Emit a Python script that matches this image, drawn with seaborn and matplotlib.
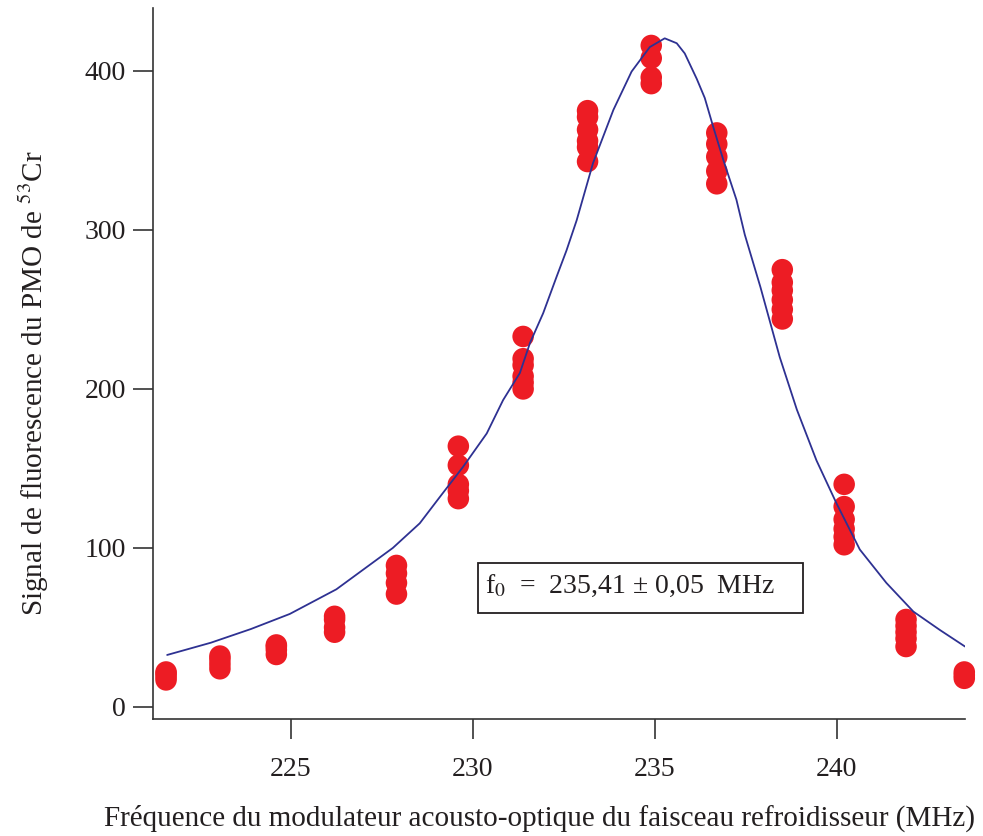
import matplotlib
matplotlib.use("Agg")
import matplotlib.pyplot as plt
from matplotlib.patches import Rectangle
import seaborn as sns
import pandas as pd

# measured frequencies (MHz) and repeated fluorescence readings at each one
freq_points = [221.57, 223.05, 224.6, 226.2, 227.9, 229.6, 231.38,
               233.15, 234.9, 236.7, 238.5, 240.2, 241.9, 243.5]
signal_points = [
    [17, 19, 21, 22],
    [24, 27, 30, 32],
    [33, 36, 38, 39],
    [47, 50, 55, 57],
    [71, 78, 84, 89],
    [131, 136, 140, 152, 164],
    [200, 204, 208, 215, 219, 233],
    [343, 352, 356, 363, 371, 375],
    [392, 396, 408, 416],
    [329, 337, 346, 354, 361],
    [244, 250, 256, 262, 267, 275],
    [102, 107, 112, 118, 126, 140],
    [38, 43, 47, 51, 55],
    [18, 20, 22],
]

# fitted curve
fit_freq = [221.6, 222.8, 223.9, 224.97, 226.25, 227.8, 228.54, 229.09, 229.73,
            230.38, 230.83, 231.29, 231.57, 231.93, 232.3, 232.57, 232.85, 233.3,
            233.86, 234.36, 234.86, 235.27, 235.6, 235.82, 236.15, 236.37, 236.6,
            236.88, 237.24, 237.47, 237.9, 238.43, 238.9, 239.44, 239.99, 240.63,
            241.36, 242.1, 242.83, 243.52]
fit_signal = [32.7, 40.4, 49, 58.5, 74, 100, 115.5, 132, 151,
              172, 193, 210, 229, 247.6, 270.6, 287, 306, 342,
              375.5, 399.6, 415, 420.5, 417.4, 411, 395, 383, 365,
              344, 319, 297, 264, 220, 187, 155, 128, 99,
              78, 60, 48.4, 38]

x_ticks = [225, 230, 235, 240]
y_ticks = [0, 100, 200, 300, 400]

x_label = "Fréquence du modulateur acousto-optique du faisceau refroidisseur (MHz)"
y_label = r"Signal de fluorescence du PMO de $^{53}$Cr"
fit_text = r"f$_0$  =  235,41 ± 0,05  MHz"


def main():
    sns.set_style("ticks")
    plt.rcParams["font.family"] = ["Liberation Serif", "DejaVu Serif"]
    plt.rcParams["mathtext.fontset"] = "stix"

    rows = [(f, s) for f, vals in zip(freq_points, signal_points) for s in vals]
    points = pd.DataFrame(rows, columns=["freq", "signal"])
    fit = pd.DataFrame({"freq": fit_freq, "signal": fit_signal})

    fig = plt.figure(figsize=(9.83, 8.36), dpi=100)
    ax = fig.add_axes([0.1556, 0.14, 0.8261, 0.8505])

    sns.scatterplot(data=points, x="freq", y="signal", ax=ax, s=240,
                    color="#ED1C24", edgecolor="none", linewidth=0,
                    clip_on=False, zorder=2)
    sns.lineplot(data=fit, x="freq", y="signal", ax=ax, sort=False,
                 estimator=None, color="#2E3192", linewidth=1.3, zorder=3)

    ax.set_xlim(221.21, 243.52)
    ax.set_ylim(-7.55, 439.6)
    ax.set_xticks(x_ticks)
    ax.set_yticks(y_ticks)
    sns.despine(ax=ax)
    for side in ("left", "bottom"):
        ax.spines[side].set_color("#333333")
        ax.spines[side].set_linewidth(1.2)
    ax.tick_params(direction="out", length=14.5, width=1.2, color="#333333",
                   labelsize=20, labelcolor="#231f20")
    ax.tick_params(axis="x", pad=13)
    ax.tick_params(axis="y", pad=5)

    ax.set_xlabel(x_label, fontsize=21, color="#231f20")
    ax.xaxis.set_label_coords(0.4766, -0.121)
    ax.set_ylabel(y_label, fontsize=21, color="#231f20")
    ax.yaxis.set_label_coords(-0.125, 0.4726)

    # annotation box with the fitted centre frequency
    ax.add_patch(Rectangle((0.4003, 0.149), 0.4002, 0.0703, transform=ax.transAxes,
                           fill=False, edgecolor="#231f20", linewidth=1.3,
                           clip_on=False))
    ax.text(0.4089, 0.1772, fit_text, transform=ax.transAxes, fontsize=20,
            ha="left", va="baseline", color="#231f20")

    fig.savefig("out.png", dpi=100)
    plt.close(fig)


if __name__ == "__main__":
    main()
